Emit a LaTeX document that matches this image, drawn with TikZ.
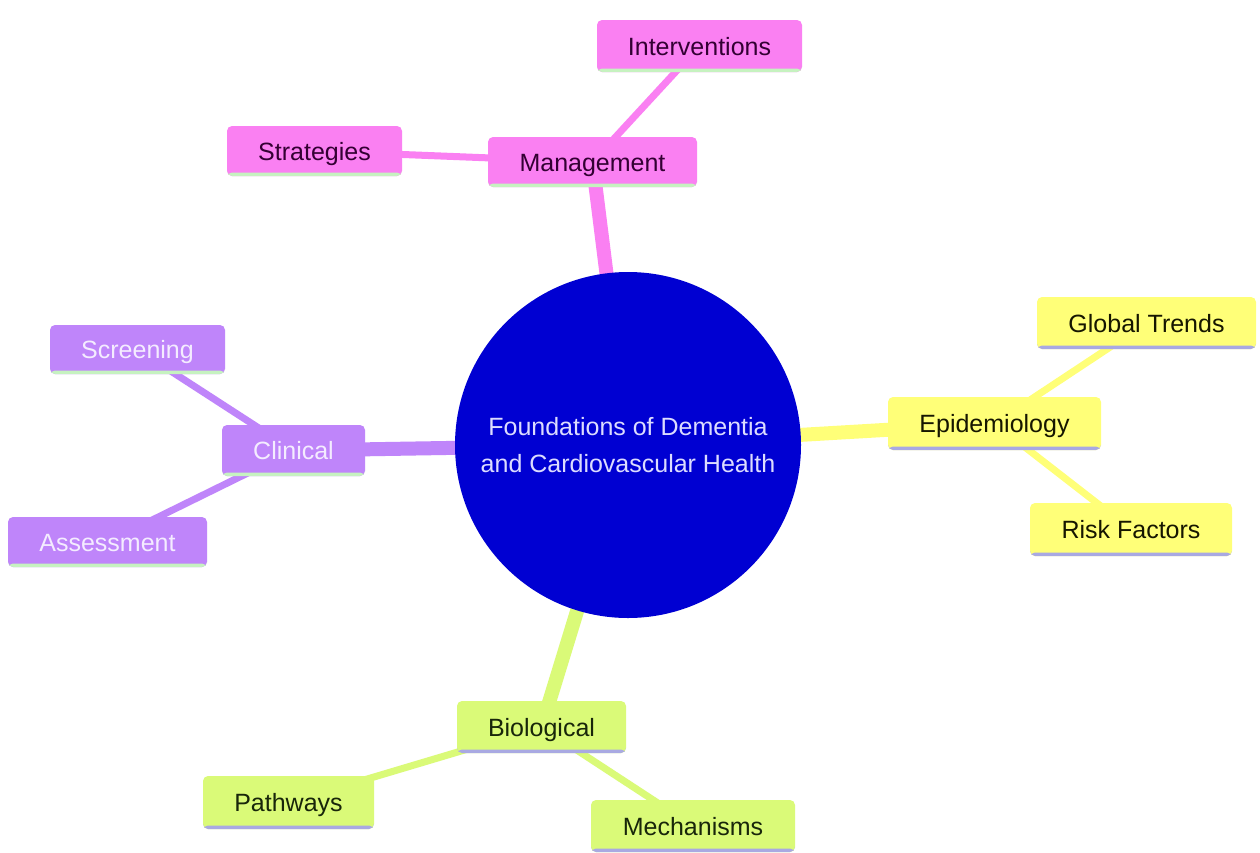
\documentclass[tikz,border=0pt]{standalone}
\usepackage{fontspec}
\setmainfont{Liberation Sans}
\usetikzlibrary{backgrounds}
\definecolor{pinkc}{HTML}{FA80F2}
\definecolor{purplec}{HTML}{BF85FA}
\definecolor{yellowc}{HTML}{FFFF78}
\definecolor{greenc}{HTML}{DAFA78}
\definecolor{centerc}{HTML}{0000D2}
\definecolor{lgreenline}{HTML}{C6F2C0}
\definecolor{lavline}{HTML}{A9A9E2}
\definecolor{pinktext}{HTML}{330033}
\definecolor{purpletext}{HTML}{F4ECFF}
\definecolor{yellowtext}{HTML}{161600}
\definecolor{greentext}{HTML}{18260A}
\definecolor{centertext}{HTML}{DCDCFF}
\tikzset{
  x=1pt, y=-1pt,
  box/.style={rectangle, rounded corners=5pt, minimum height=51pt, inner sep=0pt,
    text height=23pt, text depth=5pt,
    font=\fontsize{25}{30}\selectfont},
  underline/.style={path picture={\fill[#1]([yshift=3.5pt]path picture bounding box.south west) rectangle (path picture bounding box.south east);}},
  pinkbox/.style={box, fill=pinkc, text=pinktext, underline=lgreenline},
  purplebox/.style={box, fill=purplec, text=purpletext, underline=lgreenline},
  yellowbox/.style={box, fill=yellowc, text=yellowtext, underline=lavline},
  greenbox/.style={box, fill=greenc, text=greentext, underline=lavline},
  edgeone/.style={line width=14pt},
  edgetwo/.style={line width=7pt},
}
\begin{document}
\begin{tikzpicture}
\useasboundingbox (0,0) rectangle (1260,852);
\begin{pgfonlayer}{background}
\fill[white] (0,0) rectangle (1260,852);
\end{pgfonlayer}

\node[circle, fill=centerc, minimum size=346pt, inner sep=0pt, text=centertext,
  align=center, font=\fontsize{25}{37.5}\selectfont] (root) at (628,445)
  {Foundations of Dementia\\and Cardiovascular Health};

\node[pinkbox, minimum width=209pt, minimum height=50pt] (mgmt) at (592.5,162) {Management};
\node[pinkbox, minimum width=205pt, minimum height=52pt] (interv) at (699.5,46) {Interventions};
\node[pinkbox, minimum width=175pt, minimum height=50pt] (strat) at (314.5,151) {Strategies};

\node[yellowbox, minimum width=213pt, minimum height=53pt] (epi) at (994.5,423.5) {Epidemiology};
\node[yellowbox, minimum width=219pt, minimum height=52pt] (global) at (1146.5,323) {Global Trends};
\node[yellowbox, minimum width=202pt, minimum height=53pt] (risk) at (1131,529.5) {Risk Factors};

\node[purplebox, minimum width=143pt, minimum height=51pt] (clin) at (293.5,450.5) {Clinical};
\node[purplebox, minimum width=175pt, minimum height=49pt] (screen) at (137.5,349.5) {Screening};
\node[purplebox, minimum width=199pt, minimum height=50pt] (assess) at (107.5,542) {Assessment};

\node[greenbox, minimum width=169pt, minimum height=52pt] (bio) at (541.5,727) {Biological};
\node[greenbox, minimum width=171pt, minimum height=53pt] (path) at (288.5,802.5) {Pathways};
\node[greenbox, minimum width=204pt, minimum height=52pt] (mech) at (693,826) {Mechanisms};

\begin{pgfonlayer}{background}
\draw[edgeone, pinkc] (root.center) -- (mgmt.center);
\draw[edgetwo, pinkc] (mgmt.center) -- (interv.center);
\draw[edgetwo, pinkc] (mgmt.center) -- (strat.center);
\draw[edgeone, yellowc] (root.center) -- (epi.center);
\draw[edgetwo, yellowc] (epi.center) -- (global.center);
\draw[edgetwo, yellowc] (epi.center) -- (risk.center);
\draw[edgeone, purplec] (root.center) -- (clin.center);
\draw[edgetwo, purplec] (clin.center) -- (screen.center);
\draw[edgetwo, purplec] (clin.center) -- (assess.center);
\draw[edgeone, greenc] (root.center) -- (bio.center);
\draw[edgetwo, greenc] (bio.center) -- (path.center);
\draw[edgetwo, greenc] (bio.center) -- (mech.center);
\end{pgfonlayer}
\end{tikzpicture}
\end{document}
